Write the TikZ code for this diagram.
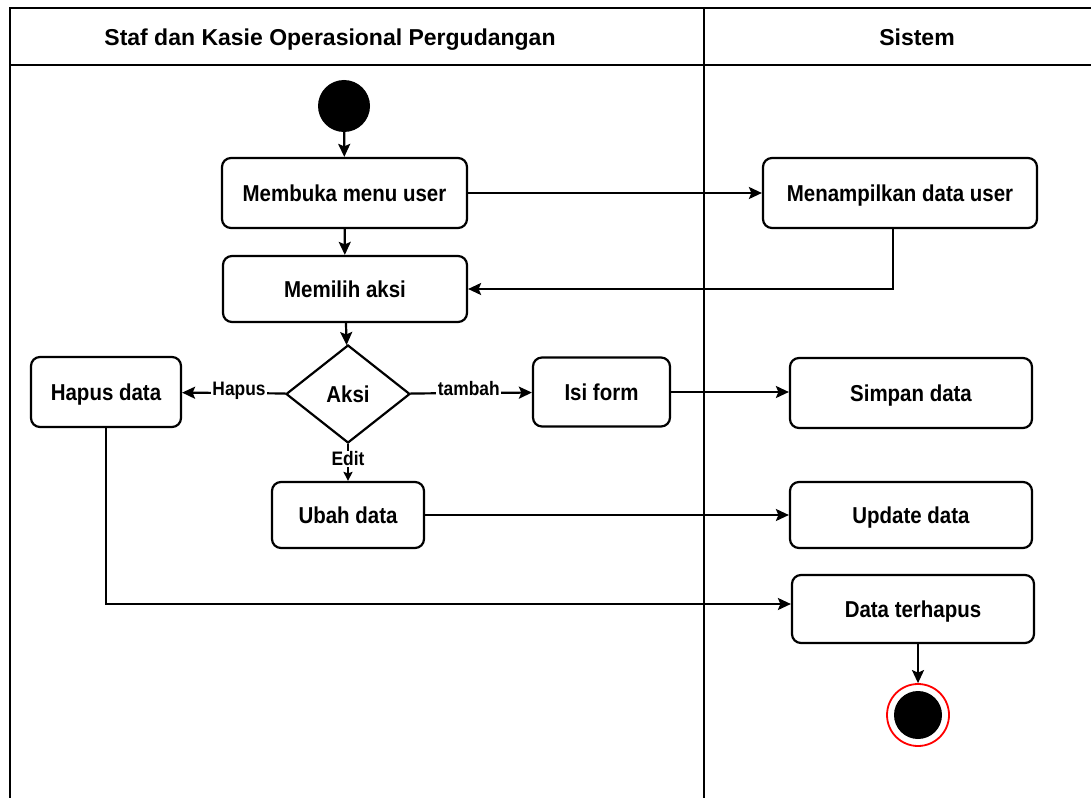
\documentclass[tikz,border=0pt]{standalone}
\usepackage{fontspec}
\setmainfont{Liberation Sans}
\newfontfamily\boxfont{Liberation Sans}[FakeStretch=0.89]
\usetikzlibrary{shapes.geometric,arrows.meta}

\begin{document}
\begin{tikzpicture}[x=1pt,y=-1pt,
  lane/.style={line width=2.2pt,draw=black},
  act/.style={draw,line width=2.2pt,rounded corners=9pt,align=center,
    font=\boxfont\bfseries\fontsize{23}{27}\selectfont,inner sep=0pt,
    text height=17pt,text depth=0pt},
  decision/.style={draw,diamond,line width=2.2pt,inner sep=0pt,
    minimum width=124pt,minimum height=98pt,text height=17pt,text depth=0pt,
    font=\boxfont\bfseries\fontsize{23}{27}\selectfont},
  flow/.style={line width=2.2pt,-{Stealth[length=13pt,width=12pt,inset=2.5pt]}},
  smallflow/.style={line width=1.8pt,-{Stealth[length=9pt,width=9pt,inset=1.5pt]}},
  guard/.style={fill=white,inner sep=1.5pt,text height=13pt,text depth=0pt,
    font=\boxfont\bfseries\fontsize{19.5}{22}\selectfont},
  heading/.style={font=\bfseries\fontsize{23}{27}\selectfont,text height=17pt,text depth=0pt}
]
\useasboundingbox (0,0) rectangle (1091,797);
\fill[white] (0,0) rectangle (1091,797);

% swimlane frame
\draw[lane] (1100,8) -- (10,8) -- (10,800);
\draw[lane] (10,65) -- (1100,65);
\draw[lane] (704,8) -- (704,800);
\node[heading] (h1) at (330,37) {Staf dan Kasie Operasional Pergudangan};
\node[heading] (h2) at (917,37) {Sistem};

% start and end
\node[circle,fill=black,minimum size=52pt,inner sep=0pt] (start) at (344,106) {};
\node[circle,draw=red,line width=1.8pt,fill=white,minimum size=62pt,inner sep=0pt] (endo) at (918,715) {};
\node[circle,fill=black,minimum size=48pt,inner sep=0pt] (end) at (918,715) {};

% activities
\node[act,minimum width=245pt,minimum height=70pt] (mbk) at (344.5,193) {Membuka menu user};
\node[act,minimum width=244pt,minimum height=66pt] (mpl) at (345,289) {Memilih aksi};
\node[act,minimum width=274pt,minimum height=70pt] (mtd) at (900,193) {Menampilkan data user};
\node[decision] (aksi) at (348,394) {Aksi};
\node[act,minimum width=150pt,minimum height=70pt] (hapus) at (106,392) {Hapus data};
\node[act,minimum width=137pt,minimum height=69pt] (isi) at (601.5,392) {Isi form};
\node[act,minimum width=242pt,minimum height=70pt] (simpan) at (911,393) {Simpan data};
\node[act,minimum width=152pt,minimum height=66pt] (ubah) at (348,515) {Ubah data};
\node[act,minimum width=242pt,minimum height=66pt] (update) at (911,515) {Update data};
\node[act,minimum width=242pt,minimum height=68pt] (terhapus) at (913,609) {Data terhapus};

% control flow
\draw[flow] (start) -- (mbk);
\draw[flow] (mbk) -- (mtd);
\draw[flow] (mbk) -- (mpl);
\draw[flow] ([xshift=-7pt]mtd.south) |- (mpl.east);
\draw[flow] (mpl) -- (aksi);
\draw[flow] (aksi) -- node[guard,pos=0.45,yshift=4pt] {Hapus} (hapus);
\draw[flow] (aksi) -- node[guard,pos=0.48,yshift=4pt] {tambah} (isi);
\draw[smallflow] (aksi) -- node[guard,pos=0.4] {Edit} (ubah);
\draw[flow] (isi.east) -- (isi.east -| simpan.west);
\draw[flow] (ubah) -- (update);
\draw[flow] (hapus) |- ([yshift=5pt]terhapus.west);
\draw[flow] (terhapus.south -| endo.north) -- (endo);
\end{tikzpicture}
\end{document}
